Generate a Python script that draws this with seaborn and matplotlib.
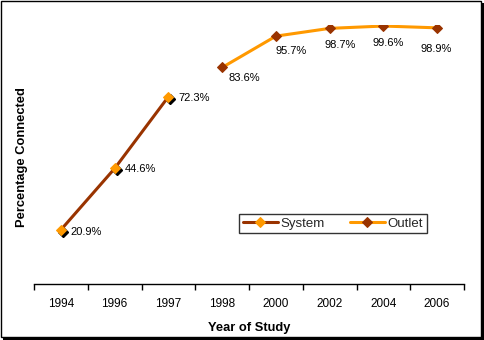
import numpy as np
import pandas as pd
import matplotlib
matplotlib.use("Agg")
import matplotlib.pyplot as plt
import matplotlib.transforms as mtransforms
from matplotlib.patches import Rectangle
import seaborn as sns

years = ["1994", "1996", "1997", "1998", "2000", "2002", "2004", "2006"]
system_years = ["1994", "1996", "1997"]
system_values = [20.9, 44.6, 72.3]
outlet_years = ["1998", "2000", "2002", "2004", "2006"]
outlet_values = [83.6, 95.7, 98.7, 99.6, 98.9]

BROWN = "#993300"
ORANGE = "#FF9900"

sns.set_theme(style="white")
plt.rcParams["font.family"] = ["Liberation Sans", "DejaVu Sans"]

fig = plt.figure(figsize=(4.84, 3.40), dpi=100)
# frame with shadow
fig.patches.append(Rectangle((3 / 484, 0), 1 - 3 / 484, 1 - 3 / 340, transform=fig.transFigure,
                             facecolor="black", edgecolor="none", zorder=-2))
fig.patches.append(Rectangle((0.5 / 484, 3 / 340), 1 - 4 / 484, 1 - 3.5 / 340, transform=fig.transFigure,
                             facecolor="white", edgecolor="black", linewidth=1, zorder=-1))

ax = fig.add_axes([34 / 484, 56 / 340, 430 / 484, 259 / 340])
ax.patch.set_visible(False)

sys_df = pd.DataFrame({"Year": system_years, "Value": system_values})
out_df = pd.DataFrame({"Year": outlet_years, "Value": outlet_values})

# register category order
ax.plot(years, [np.nan] * len(years))

shadow = ax.transData + mtransforms.ScaledTranslation(2 / 100, -2 / 100, fig.dpi_scale_trans)
ax.plot(system_years, system_values, linestyle="none", marker="D", markersize=5,
        color="black", transform=shadow, zorder=2)

sns.lineplot(data=sys_df, x="Year", y="Value", ax=ax, color=BROWN, linewidth=2.2,
             marker="D", markersize=5, markerfacecolor=ORANGE, markeredgecolor=ORANGE,
             label="System", sort=False, zorder=3)
sns.lineplot(data=out_df, x="Year", y="Value", ax=ax, color=ORANGE, linewidth=2.2,
             marker="D", markersize=5, markerfacecolor=BROWN, markeredgecolor=BROWN,
             label="Outlet", sort=False, zorder=3)

# data labels (offsets in pixels, converted to points)
sys_offsets = [(10, -2.5), (10, -1), (10, -1)]
for yr, v, (dx, dy) in zip(system_years, system_values, sys_offsets):
    ax.annotate(f"{v:.1f}%", (yr, v), xytext=(dx * 0.72, dy * 0.72), textcoords="offset points",
                ha="left", va="center", fontsize=8, color="black")
out_offsets = [(22, -11), (15, -15), (11, -17), (5, -17), (-1, -21)]
for yr, v, (dx, dy) in zip(outlet_years, outlet_values, out_offsets):
    ax.annotate(f"{v:.1f}%", (yr, v), xytext=(dx * 0.72, dy * 0.72), textcoords="offset points",
                ha="center", va="center", fontsize=8, color="black")

ax.set_xlim(-0.5, len(years) - 0.5)
ax.set_ylim(0, 100)
ax.set_yticks([])
for s in ["left", "top", "right"]:
    ax.spines[s].set_visible(False)
ax.spines["bottom"].set_color("black")
ax.spines["bottom"].set_linewidth(1)

ax.set_xticks(range(len(years)))
ax.set_xticklabels(years)
ax.set_xticks(np.arange(-0.5, len(years), 1), minor=True)
ax.tick_params(axis="x", which="major", length=0, pad=10, labelsize=8.5, colors="black")
ax.tick_params(axis="x", which="minor", length=4, width=1, direction="out", color="black", bottom=True)

ax.set_xlabel("Year of Study", fontsize=9.3, fontweight="bold", color="black", labelpad=9)
ax.set_ylabel("Percentage Connected", fontsize=9.3, fontweight="bold", color="black")
ax.yaxis.set_label_coords(-0.015, 0.49)

leg = ax.legend(loc="lower left", bbox_to_anchor=(0.4774, 0.196), ncol=2, frameon=True,
                fancybox=False, shadow=False, fontsize=9.5, handlelength=2.7,
                columnspacing=1.85, handletextpad=0.2, borderpad=0.25, borderaxespad=0)
leg.get_frame().set_edgecolor("black")
leg.get_frame().set_linewidth(1)

fig.savefig("out.png", dpi=100)
